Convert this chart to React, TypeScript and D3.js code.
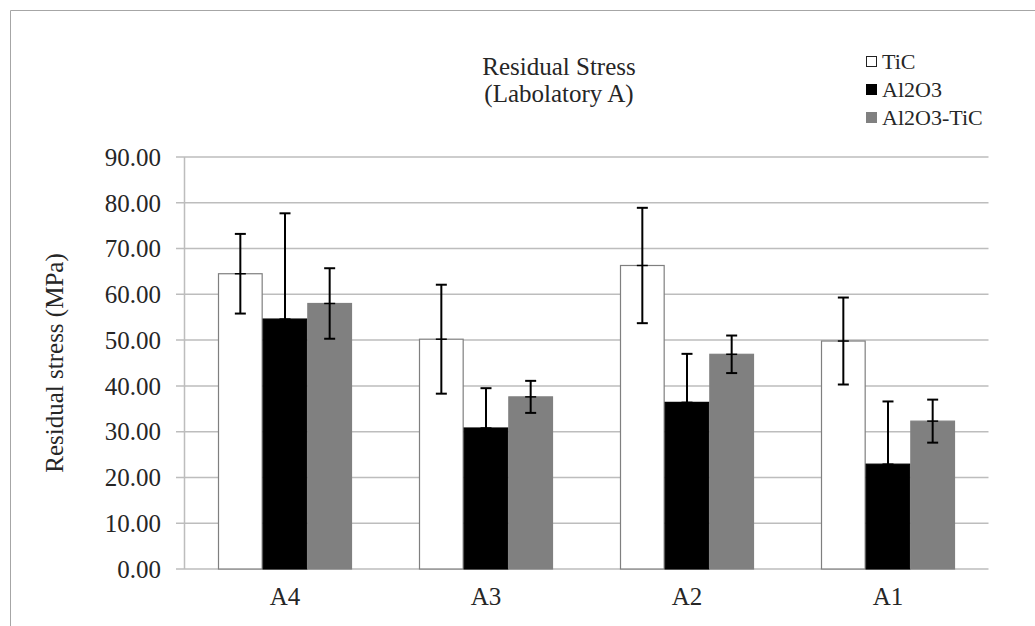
import React from "react";
import * as d3 from "d3";

const categories = ["A4", "A3", "A2", "A1"];
const seriesNames = ["TiC", "Al2O3", "Al2O3-TiC"];
const ticValues = [64.5, 50.2, 66.3, 49.8];
const ticErrors = [8.7, 11.9, 12.6, 9.5];
const al2o3Values = [54.6, 30.8, 36.4, 22.9];
const al2o3Errors = [23.1, 8.7, 10.6, 13.7];
const mixValues = [58.0, 37.6, 46.9, 32.3];
const mixErrors = [7.7, 3.5, 4.1, 4.7];
const yTicks = [0, 10, 20, 30, 40, 50, 60, 70, 80, 90];

const fills = ["#ffffff", "#000000", "#808080"];
const strokes = ["#7f7f7f", "#000000", "#808080"];

export default function App() {
  const W = 1035, H = 626;
  const left = 184.5, right = 988.5, top = 157, bottom = 569;
  const x0 = d3.scaleBand<string>().domain(categories).range([left, right]).paddingInner(0).paddingOuter(0);
  const x1 = d3.scaleBand<string>().domain(seriesNames).range([33.5, x0.bandwidth() - 33.5]).padding(0);
  const y = d3.scaleLinear().domain([0, 90]).range([bottom, top]);
  const series = [
    { name: seriesNames[0], values: ticValues, errors: ticErrors },
    { name: seriesNames[1], values: al2o3Values, errors: al2o3Errors },
    { name: seriesNames[2], values: mixValues, errors: mixErrors },
  ];
  const font = "'Liberation Serif', 'Times New Roman', serif";
  const txt = "#262626";
  return (
    <svg width={W} height={H} style={{ position: "absolute", left: 0, top: 0, background: "#fff" }} fontFamily={font}>
      <rect x={0} y={0} width={W} height={H} fill="#fff" />
      <path d={`M10.5,${H} L10.5,10.5 L${W},10.5`} fill="none" stroke="#a6a6a6" strokeWidth={1} />
      {yTicks.map((t) => (
        <g key={t}>
          <line x1={176} x2={right} y1={y(t)} y2={y(t)} stroke="#bdbdbd" strokeWidth={1.5} />
          <text x={161} y={y(t)} dy="0.35em" textAnchor="end" fontSize={25} fill={txt}>
            {t.toFixed(2)}
          </text>
        </g>
      ))}
      <line x1={left} x2={left} y1={top} y2={bottom} stroke="#bdbdbd" strokeWidth={1.5} />
      {series.map((s, si) =>
        categories.map((c, ci) => {
          const bx = (x0(c) ?? 0) + (x1(s.name) ?? 0);
          const bw = x1.bandwidth();
          const v = s.values[ci];
          return (
            <rect key={`${si}-${ci}`} x={bx + 0.5} y={y(v)} width={bw - 1} height={bottom - y(v)}
              fill={fills[si]} stroke={strokes[si]} strokeWidth={1.2} />
          );
        })
      )}
      {series.map((s, si) =>
        categories.map((c, ci) => {
          const cx = (x0(c) ?? 0) + (x1(s.name) ?? 0) + x1.bandwidth() / 2;
          const v = s.values[ci];
          const e = s.errors[ci];
          const yt = y(v + e), yb = y(v - e);
          return (
            <g key={`e${si}-${ci}`} stroke="#000" strokeWidth={2}>
              <line x1={cx} x2={cx} y1={yt} y2={yb} />
              <line x1={cx - 5.5} x2={cx + 5.5} y1={yt} y2={yt} />
              <line x1={cx - 5.5} x2={cx + 5.5} y1={yb} y2={yb} />
              <line x1={cx - 5.5} x2={cx + 5.5} y1={y(v)} y2={y(v)} strokeWidth={1.5} />
            </g>
          );
        })
      )}
      {categories.map((c) => (
        <text key={c} x={(x0(c) ?? 0) + x0.bandwidth() / 2} y={605} textAnchor="middle" fontSize={25} fill={txt}>
          {c}
        </text>
      ))}
      <text transform={`translate(63,${(top + bottom) / 2}) rotate(-90)`} textAnchor="middle" fontSize={25} fill={txt}>
        Residual stress (MPa)
      </text>
      <text x={559} y={75} textAnchor="middle" fontSize={25} fill={txt}>Residual Stress</text>
      <text x={559} y={102} textAnchor="middle" fontSize={25} fill={txt}>(Labolatory A)</text>
      {seriesNames.map((n, i) => (
        <g key={n}>
          <rect x={866.5} y={56.5 + i * 28} width={10} height={10} fill={fills[i]} stroke={i === 0 ? "#222" : fills[i]} strokeWidth={1} />
          <text x={882} y={61.5 + i * 28} dy="0.35em" fontSize={22} fill={txt}>{n}</text>
        </g>
      ))}
    </svg>
  );
}
